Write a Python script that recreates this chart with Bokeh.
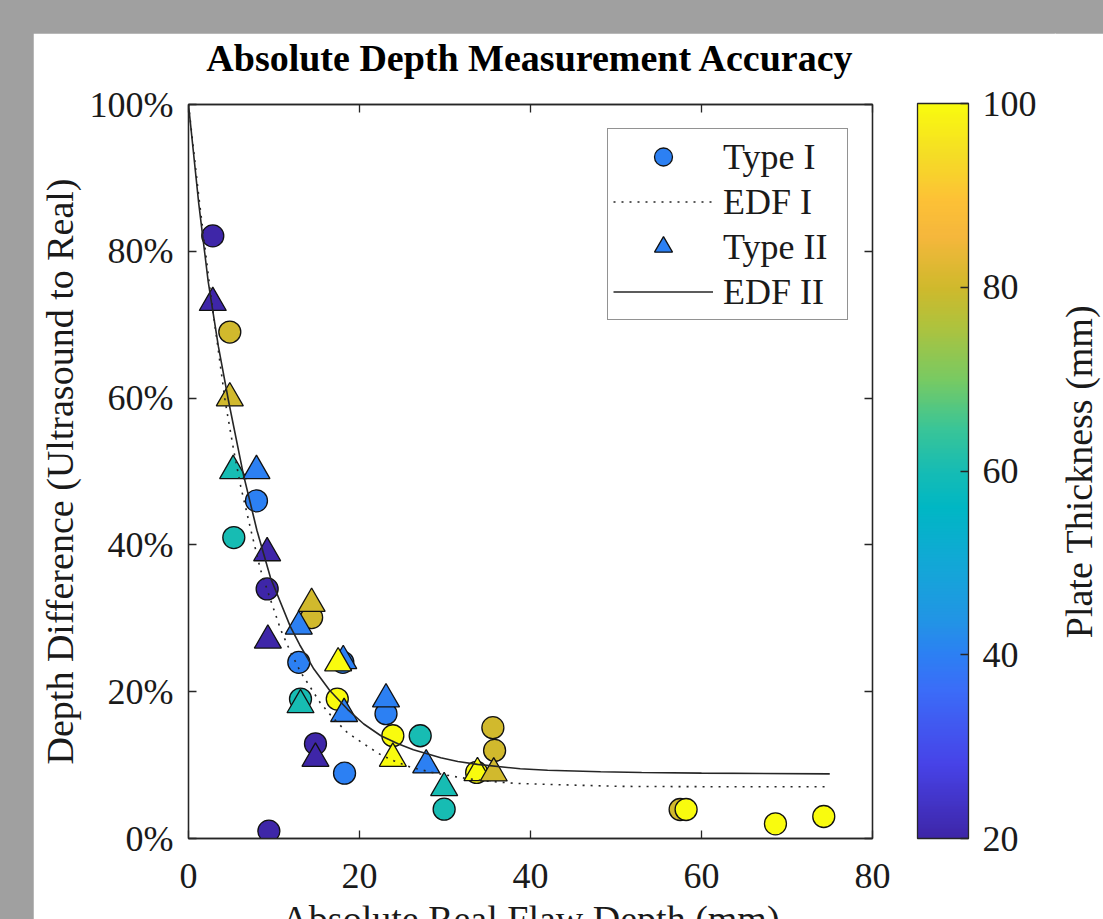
from bokeh.plotting import figure
from bokeh.models import (ColumnDataSource, LinearColorMapper, ColorBar, FixedTicker,
                          PrintfTickFormatter, Range1d, LinearAxis, Legend, LegendItem,
                          CustomJSTickFormatter)
from bokeh.layouts import row
from bokeh.embed import file_html
from bokeh.resources import INLINE

# ---------------- data ----------------
# Type I (circles): absolute real flaw depth (mm), depth difference (%), plate thickness (mm)
type1_x = [2.84, 4.83, 5.3, 7.95, 9.2, 9.4, 12.9, 13.1, 14.4, 14.85, 18.05, 18.25,
           17.4, 23.1, 23.9, 27.1, 29.9, 33.7, 35.6, 35.8, 57.5, 58.2, 68.65, 74.3]
type1_y = [82.1, 69.0, 41.0, 46.0, 34.0, 1.0, 24.0, 19.0, 30.1, 12.9, 24.0, 8.9,
           19.0, 17.0, 14.0, 14.0, 4.0, 9.0, 15.1, 12.0, 3.95, 3.95, 2.0, 3.0]
type1_t = [20, 80, 60, 40, 20, 20, 40, 60, 80, 20, 40, 40,
           100, 40, 100, 60, 60, 100, 80, 80, 80, 100, 100, 100]

# Type II (triangles)
type2_x = [2.84, 4.83, 5.22, 7.95, 9.2, 9.28, 12.9, 13.1, 14.4, 14.85, 18.1, 17.5,
           18.2, 23.1, 23.9, 27.8, 29.9, 33.8, 35.7]
type2_y = [73.0, 60.0, 50.1, 50.1, 38.9, 27.0, 28.9, 18.2, 32.0, 10.9, 24.2, 23.9,
           17.0, 19.0, 10.9, 10.0, 6.9, 8.95, 8.9]
type2_t = [20, 80, 60, 40, 20, 20, 40, 60, 80, 20, 40, 100,
           40, 40, 100, 40, 60, 100, 80]

# EDF I (dotted curve)
edf1_x = [0, 1.2, 2.5, 4.3, 5.3, 6.1, 7.3, 8.4, 9.6, 10.8, 11.9, 13.1, 15.4, 17.0, 18.6,
          20.5, 22.5, 24.0, 26.0, 28.5, 31.8, 35.0, 38.5, 42.7, 50.5, 62.0, 75.0]
edf1_y = [100, 87.5, 75.0, 59.5, 52.8, 48.0, 42.0, 36.7, 32.5, 28.4, 25.5, 22.7, 18.5, 16.3,
          14.4, 12.9, 11.4, 10.6, 9.7, 9.0, 8.3, 7.8, 7.5, 7.35, 7.1, 7.05, 7.05]

# EDF II (solid curve)
edf2_x = [0, 1.2, 2.3, 3.5, 4.7, 6.4, 8.0, 9.6, 11.9, 13.0, 14.6, 16.5, 18.6, 20.5, 22.5,
          24.5, 26.3, 29.5, 31.5, 33.8, 38.8, 42.0, 48.2, 53.0, 60.0, 75.0]
edf2_y = [100, 86.5, 75.9, 67.0, 59.5, 49.7, 42.0, 35.5, 28.9, 26.4, 23.2, 20.2, 17.6, 15.6,
          14.0, 12.9, 12.1, 11.0, 10.5, 10.1, 9.5, 9.3, 9.1, 9.0, 8.9, 8.8]

x_ticks = [0, 20, 40, 60, 80]
y_ticks = [0, 20, 40, 60, 80, 100]
cb_ticks = [20, 40, 60, 80, 100]

TITLE = "Absolute Depth Measurement Accuracy"
X_LABEL = "Absolute Real Flaw Depth (mm)"
Y_LABEL = "Depth Difference (Ultrasound to Real)"
CB_TITLE = "Plate Thickness (mm)"

# ---------------- style ----------------
FONT = "Liberation Serif"
AX = "#262626"
TXT = "#1a1a1a"

anchors = [(0.00, "#3e26a8"), (0.10, "#4743e8"), (0.20, "#3b6cf8"), (0.25, "#2c80f3"),
           (0.30, "#2196e4"), (0.375, "#12a8d6"), (0.45, "#00b7c4"), (0.50, "#16bcb4"),
           (0.56, "#3bc596"), (0.625, "#78ca62"), (0.70, "#b0c23c"), (0.75, "#cfb92c"),
           (0.82, "#f5b73c"), (0.87, "#fdc136"), (0.93, "#f5dc26"), (1.00, "#f9fb0e")]


def _rgb(h):
    return tuple(int(h[i:i + 2], 16) for i in (1, 3, 5))


palette = []
for i in range(256):
    t = i / 255
    for (t0, c0), (t1, c1) in zip(anchors[:-1], anchors[1:]):
        if t0 <= t <= t1:
            f = (t - t0) / (t1 - t0)
            a, b = _rgb(c0), _rgb(c1)
            palette.append("#%02x%02x%02x" % tuple(round(a[k] + (b[k] - a[k]) * f) for k in range(3)))
            break

mapper = LinearColorMapper(palette=palette, low=20, high=100)

p = figure(width=1023, height=925, output_backend="svg", toolbar_location=None,
           x_range=Range1d(0, 80), y_range=Range1d(0, 100),
           min_border_left=155, min_border_right=184, min_border_top=70, min_border_bottom=120,
           background_fill_color="white", border_fill_color="white")
p.margin = (33, 0, 0, 33)
p.grid.visible = False
p.outline_line_color = AX
p.outline_line_width = 1.3


def style_axis(ax, labels=True):
    ax.axis_line_color = AX
    ax.axis_line_width = 1.3
    ax.major_tick_line_color = AX
    ax.major_tick_line_width = 1.3
    ax.major_tick_in = 8
    ax.major_tick_out = 0
    ax.minor_tick_line_color = None
    ax.major_label_text_font = FONT
    ax.major_label_text_color = TXT
    ax.major_label_text_font_size = "36px" if labels else "1px"
    ax.axis_label_text_font = FONT
    ax.axis_label_text_font_size = "38px"
    ax.axis_label_text_font_style = "normal"
    ax.axis_label_text_color = TXT


xa = p.xaxis[0]
xa.ticker = FixedTicker(ticks=x_ticks)
xa.axis_label = X_LABEL
style_axis(xa)
xa.major_label_standoff = 25
xa.axis_label_standoff = 7

ya = p.yaxis[0]
ya.ticker = FixedTicker(ticks=y_ticks)
ya.formatter = PrintfTickFormatter(format="%d%%")
ya.axis_label = Y_LABEL
style_axis(ya)
ya.major_label_standoff = 15
ya.axis_label_standoff = 6

blank = CustomJSTickFormatter(code="return ''")

# mirrored top axis (inward ticks) carrying the chart title as its label
top_ax = LinearAxis(ticker=FixedTicker(ticks=x_ticks), formatter=blank)
style_axis(top_ax, labels=False)
top_ax.major_label_standoff = 0
top_ax.axis_label = TITLE
top_ax.axis_label_text_font_style = "bold"
top_ax.axis_label_text_color = "black"
top_ax.axis_label_standoff = 26
p.add_layout(top_ax, "above")

right_ax = LinearAxis(ticker=FixedTicker(ticks=y_ticks), formatter=blank)
style_axis(right_ax, labels=False)
right_ax.major_label_standoff = 0
p.add_layout(right_ax, "right")

src1 = ColumnDataSource(dict(x=type1_x, y=type1_y, t=type1_t))
src2 = ColumnDataSource(dict(x=type2_x, y=type2_y, t=type2_t))

r_c = p.scatter("x", "y", source=src1, marker="circle", size=22,
                fill_color={"field": "t", "transform": mapper},
                line_color="#111111", line_width=1.3)
r_t = p.scatter("x", "y", source=src2, marker="triangle", size=27,
                fill_color={"field": "t", "transform": mapper},
                line_color="#111111", line_width=1.3)
r_l1 = p.line(edf1_x, edf1_y, line_color=AX, line_width=1.6, line_dash="2 6")
r_l2 = p.line(edf2_x, edf2_y, line_color=AX, line_width=1.6)

legend = Legend(items=[
    LegendItem(label="Type I", renderers=[r_c], index=3),
    LegendItem(label="EDF I", renderers=[r_l1]),
    LegendItem(label="Type II", renderers=[r_t], index=3),
    LegendItem(label="EDF II", renderers=[r_l2]),
], location="top_right", margin=24, padding=5, spacing=0,
    glyph_width=100, glyph_height=45, label_height=45, label_width=119, label_standoff=10,
    label_text_font=FONT, label_text_font_size="36px", label_text_color=TXT,
    border_line_color=AX, border_line_width=1.3, background_fill_color="white",
    background_fill_alpha=1.0)
p.add_layout(legend, "center")

cb = ColorBar(color_mapper=mapper, ticker=FixedTicker(ticks=cb_ticks),
              width=51, height=735, location=(45, 0), padding=0, margin=0,
              bar_line_color=AX, bar_line_width=1.3,
              major_tick_line_color=AX, major_tick_line_width=1.3,
              major_tick_in=8, major_tick_out=0, minor_tick_line_color=None,
              label_standoff=14, major_label_text_font=FONT,
              major_label_text_font_size="36px", major_label_text_color=TXT,
              background_fill_color="white")
p.add_layout(cb, "right")

# narrow companion figure holding the colour-bar title (vertical, bottom-to-top);
# its (empty) frame lies beyond the right edge of the window
p2 = figure(width=62, height=925, output_backend="svg", toolbar_location=None,
            x_range=Range1d(0, 1), y_range=Range1d(0, 1), x_axis_location=None,
            min_border_left=0, min_border_right=0, min_border_top=70, min_border_bottom=120,
            background_fill_color="white", border_fill_color="white")
p2.margin = (33, 0, 0, -2)
p2.grid.visible = False
p2.outline_line_color = None
ya2 = p2.yaxis[0]
ya2.ticker = FixedTicker(ticks=[])
ya2.axis_line_color = None
ya2.major_tick_line_color = None
ya2.minor_tick_line_color = None
ya2.major_tick_out = 0
ya2.major_tick_in = 0
ya2.major_label_standoff = 0
ya2.axis_label = CB_TITLE
ya2.axis_label_standoff = 10
ya2.axis_label_text_font = FONT
ya2.axis_label_text_font_size = "38px"
ya2.axis_label_text_font_style = "normal"
ya2.axis_label_text_color = TXT

page_css = """{% block postamble %}
<style>html, body { margin: 0; padding: 0; overflow: hidden; background-color: #a0a0a0; }</style>
{% endblock %}"""

layout = row(p, p2)
open("out.html", "w").write(file_html(layout, INLINE, template=page_css))
